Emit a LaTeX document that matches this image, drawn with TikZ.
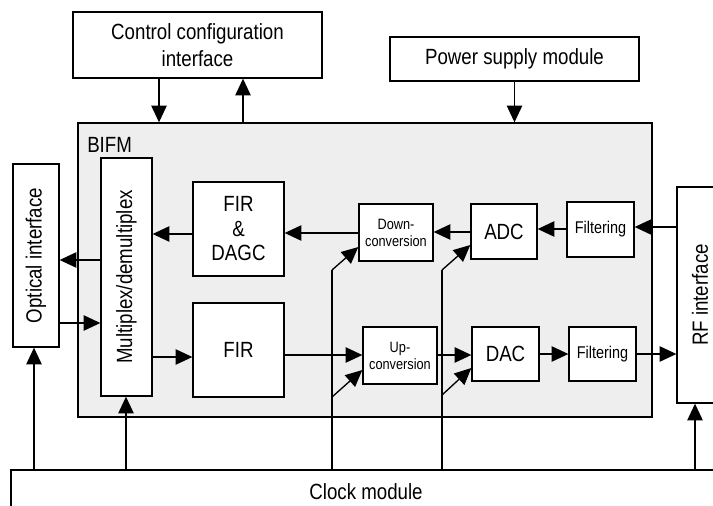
\documentclass[tikz,border=0pt]{standalone}
\usepackage{fontspec}
\setmainfont[FakeStretch=0.85]{Liberation Sans}
\usepackage{tikz}
\usetikzlibrary{arrows.meta, positioning}

\definecolor{bifmgray}{gray}{0.935}
\newcommand{\pxu}{0.75pt}
\newcommand{\bigtxt}{\fontsize{16.5}{20}\selectfont}
\newcommand{\midtxt}{\fontsize{12.75}{15}\selectfont}
\newcommand{\smalltxt}{\fontsize{11.25}{12.75}\selectfont}

\tikzset{
	blk/.style={draw, line width=1pt, fill=white, inner sep=0pt, align=center, font=\bigtxt},
	sz/.style 2 args={minimum width=#1*\pxu, minimum height=#2*\pxu},
	arr/.style={line width=1pt, -{Triangle[length=12.5pt, width=11.5pt]}},
	wire/.style={line width=1pt},
}

\begin{document}
\begin{tikzpicture}[x=0.75pt, y=-0.75pt]
		% Page frame
		\useasboundingbox (0,0) rectangle (713,506);
		\clip (0,0) rectangle (713,506);

		% BIFM board
		\node[draw, line width=1pt, fill=bifmgray, sz={574}{294}] (bifm) at (365,270) {};
		\node[anchor=base west, font=\bigtxt, inner sep=0pt] (bifmlabel) at (87,152) {BIFM};

		% Outer modules
		\node[blk, sz={249}{66}] (ctrl) at (197.5,45) {Control configuration\\interface};
		\node[blk, sz={249}{44}] (power) at (514.5,59) {Power supply module};
		\node[blk, sz={46}{183}] (optical) at (36,255.5) {\rotatebox{90}{Optical interface}};
		\node[blk, sz={46}{216}] (rf) at (700,295) {\rotatebox{90}{RF interface}};
		\node[blk, sz={710}{44}] (clock) at (366,492) {Clock module};

		% Blocks inside the BIFM
		\node[blk, sz={51}{238}] (mux) at (126.5,277) {\rotatebox{90}{Multiplex/demultiplex}};
		\node[blk, sz={91}{94}, font=\fontsize{16.5}{18.4}\selectfont] (firdagc) at (238.5,229) {FIR\\\&\\DAGC};
		\node[blk, sz={91}{94}] (fir) at (238.5,350) {FIR};
		\node[blk, sz={74}{57}, font=\smalltxt] (down) at (396,232.5) {Down-\\conversion};
		\node[blk, sz={74}{57}, font=\smalltxt] (up) at (400,355.5) {Up-\\conversion};
		\node[blk, sz={66}{55}] (adc) at (504,231.5) {ADC};
		\node[blk, sz={67}{54}] (dac) at (505.5,354) {DAC};
		\node[blk, sz={67}{55}, font=\midtxt] (filt1) at (600.5,229.5) {Filtering};
		\node[blk, sz={67}{54}, font=\midtxt] (filt2) at (602.5,354) {Filtering};

		% Control and power lines
		\draw[arr] (159,0 |- ctrl.south) -- (159,0 |- bifm.north);
		\draw[arr] (243,0 |- bifm.north) -- (243,0 |- ctrl.south);
		\draw[arr] (power.south) -- (power.south |- bifm.north);

		% Optical side
		\draw[arr] (mux.west |- 0,260) -- (optical.east |- 0,260);
		\draw[arr] (optical.east |- 0,323) -- (mux.west |- 0,323);

		% Receive chain
		\draw[arr] (rf.west |- 0,227) -- (filt1.east |- 0,227);
		\draw[arr] (filt1.west |- 0,229) -- (adc.east |- 0,229);
		\draw[arr] (adc.west |- 0,232) -- (down.east |- 0,232);
		\draw[arr] (down.west |- 0,233) -- (firdagc.east |- 0,233);
		\draw[arr] (firdagc.west |- 0,234) -- (mux.east |- 0,234);

		% Transmit chain
		\draw[arr] (mux.east |- 0,357) -- (fir.west |- 0,357);
		\draw[arr] (fir.east |- 0,355) -- (up.west |- 0,355);
		\draw[arr] (up.east |- 0,355) -- (dac.west |- 0,355);
		\draw[arr] (dac.east |- 0,354) -- (filt2.west |- 0,354);
		\draw[arr] (filt2.east |- 0,354) -- (rf.west |- 0,354);

		% Clock distribution
		\draw[arr] (34,0 |- clock.north) -- (34,0 |- optical.south);
		\draw[arr] (126,0 |- clock.north) -- (126,0 |- mux.south);
		\draw[arr] (695,0 |- clock.north) -- (695,0 |- rf.south);
		\coordinate (tapa) at (332,270);
		\coordinate (tapb) at (332,397);
		\coordinate (tapc) at (442,270);
		\coordinate (tapd) at (442,395);
		\draw[wire] (tapa |- clock.north) -- (tapa);
		\draw[arr] (tapa) -- (down.west |- 0,247);
		\draw[arr] (tapb) -- (up.west |- 0,370);
		\draw[wire] (tapc |- clock.north) -- (tapc);
		\draw[arr] (tapc) -- (adc.west |- 0,245);
		\draw[arr] (tapd) -- (dac.west |- 0,368);
	\end{tikzpicture}
\end{document}
